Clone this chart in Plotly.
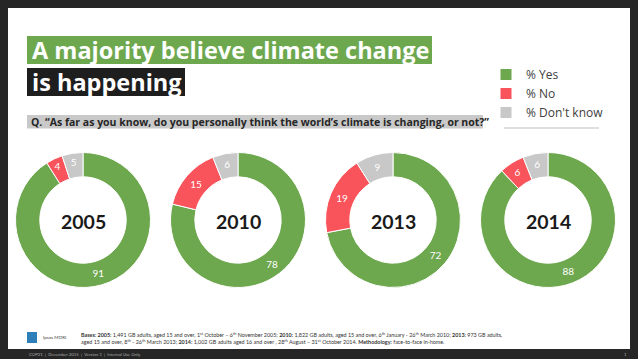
import plotly.graph_objects as go

# ---- data ----
years = ["2005", "2010", "2013", "2014"]
categories = ["% Yes", "% No", "% Don't know"]
yes_vals = [91, 78, 72, 88]
no_vals = [4, 15, 19, 6]
dk_vals = [5, 6, 9, 6]
colors = ["#6DA74E", "#F9535C", "#C8C8C8"]

title_line1 = "A majority believe climate change"
title_line2 = "is happening"
question = "Q. \u201cAs far as you know, do you personally think the world\u2019s climate is changing, or not?\u201d"
base_line1 = ("<b>Bases: 2005:</b> 1,491 GB adults, aged 15 and over, 1<sup>st</sup> October \u2013 6<sup>th</sup> November 2005; "
              "<b>2010:</b> 1,822 GB adults, aged 15 and over, 6<sup>th</sup> January - 26<sup>th</sup> March 2010; "
              "<b>2013:</b> 973 GB adults,")
base_line2 = ("aged 15 and over, 8<sup>th</sup> - 26<sup>th</sup> March 2013; <b>2014:</b> 1,002 GB adults aged 16 and over , "
              "28<sup>th</sup> August \u2013 31<sup>st</sup> October 2014. <b>Methodology:</b> face-to-face in-home.")
footer = "COP21  |  December 2015  |  Version 1  |  Internal Use Only"

# ---- layout constants ----
W, H = 638, 359
centers_x = [83, 238, 393, 548]
center_y = 220
R = 67.5
FONT = "Lato, Open Sans, sans-serif"
TFONT = "Open Sans, sans-serif"

def px(x):
    return x / W

def py(y):
    return 1 - y / H

fig = go.Figure()
for i, yr in enumerate(years):
    cx = centers_x[i]
    fig.add_trace(go.Pie(
        labels=categories,
        values=[yes_vals[i], no_vals[i], dk_vals[i]],
        name=yr,
        sort=False,
        direction="clockwise",
        rotation=0,
        hole=0.64,
        marker=dict(colors=colors, line=dict(color="white", width=1)),
        textinfo="value",
        textposition="inside",
        insidetextorientation="horizontal",
        insidetextfont=dict(color="white", size=10, family=FONT),
        hoverinfo="label+value",
        showlegend=(i == 0),
        domain=dict(x=[px(cx - R), px(cx + R)], y=[py(center_y + R), py(center_y - R)]),
    ))

shapes = []
# white slide
shapes.append(dict(type="rect", xref="paper", yref="paper", x0=px(8), x1=px(630), y0=py(349), y1=py(8),
                   fillcolor="white", line=dict(width=0), layer="below"))
# title boxes
shapes.append(dict(type="rect", xref="paper", yref="paper", x0=px(27), x1=px(432), y0=py(64), y1=py(36),
                   fillcolor="#6DA74E", line=dict(width=0), layer="below"))
shapes.append(dict(type="rect", xref="paper", yref="paper", x0=px(27), x1=px(185), y0=py(96), y1=py(68),
                   fillcolor="#1E1E1E", line=dict(width=0), layer="below"))
# question box
shapes.append(dict(type="rect", xref="paper", yref="paper", x0=px(27), x1=px(483), y0=py(128.5), y1=py(115),
                   fillcolor="#C9C9C9", line=dict(width=0), layer="below"))
# legend underline
shapes.append(dict(type="line", xref="paper", yref="paper", x0=px(504), x1=px(599), y0=py(128), y1=py(128),
                   line=dict(color="#BFBFBF", width=1)))
# logo
shapes.append(dict(type="rect", xref="paper", yref="paper", x0=px(27), x1=px(37), y0=py(343), y1=py(332),
                   fillcolor="#2E7FB8", line=dict(width=0)))

annotations = []
annotations.append(dict(text="<b>" + title_line1 + "</b>", x=px(30), y=py(50), xref="paper", yref="paper",
                        xanchor="left", yanchor="middle", showarrow=False,
                        font=dict(family=TFONT, size=23.5, color="white")))
annotations.append(dict(text="<b>" + title_line2 + "</b>", x=px(30), y=py(82), xref="paper", yref="paper",
                        xanchor="left", yanchor="middle", showarrow=False,
                        font=dict(family=TFONT, size=23.5, color="white")))
annotations.append(dict(text="<b>" + question + "</b>", x=px(29), y=py(122), xref="paper", yref="paper",
                        xanchor="left", yanchor="middle", showarrow=False,
                        font=dict(family=TFONT, size=10.5, color="#262626")))
for i, yr in enumerate(years):
    annotations.append(dict(text="<b>" + yr + "</b>", x=px(centers_x[i]), y=py(center_y + 1), xref="paper",
                            yref="paper", xanchor="center", yanchor="middle", showarrow=False,
                            font=dict(family=FONT, size=19.5, color="#1A1A1A")))
annotations.append(dict(text=base_line1 + "<br>" + base_line2, x=px(79), y=py(338), xref="paper", yref="paper",
                        xanchor="left", yanchor="middle", align="left", showarrow=False,
                        font=dict(family=FONT, size=5.4, color="#333333")))
annotations.append(dict(text="Ipsos MORI", x=px(41), y=py(337.5), xref="paper", yref="paper",
                        xanchor="left", yanchor="middle", showarrow=False,
                        font=dict(family=FONT, size=4.5, color="#444444")))
annotations.append(dict(text=footer, x=px(27), y=py(354), xref="paper", yref="paper",
                        xanchor="left", yanchor="middle", showarrow=False,
                        font=dict(family=FONT, size=4.3, color="#AAAAAA")))
annotations.append(dict(text="1", x=px(629), y=py(354), xref="paper", yref="paper",
                        xanchor="right", yanchor="middle", showarrow=False,
                        font=dict(family=FONT, size=4.3, color="#AAAAAA")))

fig.update_layout(
    width=W, height=H,
    margin=dict(l=0, r=0, t=0, b=0),
    paper_bgcolor="#262626",
    plot_bgcolor="#262626",
    shapes=shapes,
    annotations=annotations,
    legend=dict(x=px(486), y=py(60), xanchor="left", yanchor="top",
                font=dict(family=TFONT, size=12, color="#404040"),
                bgcolor="rgba(0,0,0,0)", itemwidth=30, tracegroupgap=0,
                traceorder="normal"),
    font=dict(family=FONT),
)

fig.write_html("out.html", config={"displayModeBar": False},
               post_script="document.body.style.margin='0';document.body.style.background='#262626';")
